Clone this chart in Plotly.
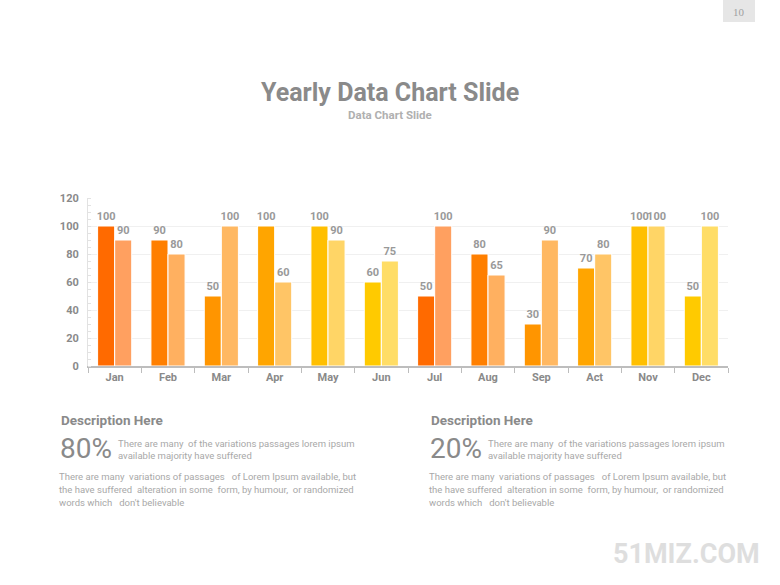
import plotly.graph_objects as go

months = ["Jan", "Feb", "Mar", "Apr", "May", "Jun", "Jul", "Aug", "Sep", "Act", "Nov", "Dec"]
series_a = [100, 90, 50, 100, 100, 60, 50, 80, 30, 70, 100, 50]
series_b = [90, 80, 100, 60, 90, 75, 100, 65, 90, 80, 100, 100]
colors_a = ["#FF6A00", "#FF7F00", "#FF9500", "#FFA500", "#FFBF00", "#FFCA00"] * 2
colors_b = ["#FFA060", "#FFB060", "#FFB862", "#FFC566", "#FFD566", "#FFDD66"] * 2
y_ticks = [0, 20, 40, 60, 80, 100, 120]

W, H = 780, 585
L, R, T, B = 88, 728, 198, 366


def px(x):
    return (x - L) / (R - L)


def py(y):
    return (B - y) / (B - T)


FONT = "Roboto"
label_font = dict(family=FONT, size=11, color="#999999", weight="bold")

fig = go.Figure()
for vals, cols in ((series_a, colors_a), (series_b, colors_b)):
    fig.add_trace(go.Bar(
        x=months, y=vals,
        marker=dict(color=cols, line=dict(color="white", width=1)),
        text=[str(v) for v in vals], textposition="outside",
        textfont=label_font, constraintext="none", cliponaxis=False,
        hoverinfo="x+y", showlegend=False,
    ))

ann = []
ann.append(dict(x=px(390), y=py(92), xref="paper", yref="paper",
                text="Yearly Data Chart Slide",
                showarrow=False, xanchor="center", yanchor="middle",
                font=dict(family=FONT, size=25, color="#8a8a8a", weight="bold")))
ann.append(dict(x=px(390), y=py(115), xref="paper", yref="paper", text="Data Chart Slide",
                showarrow=False, xanchor="center", yanchor="middle",
                font=dict(family=FONT, size=11.5, color="#b0b0b0", weight="bold")))

side_lines = ["There are many  of the variations passages lorem ipsum",
              "available majority have suffered"]
para_lines = ["There are many  variations of passages   of Lorem Ipsum available, but",
              "the have suffered  alteration in some  form, by humour,  or randomized",
              "words which   don't believable"]
for x0, pct in ((59, "80%"), (429, "20%")):
    ann.append(dict(x=px(x0), y=py(420), xref="paper", yref="paper", text="Description Here",
                    showarrow=False, xanchor="left", yanchor="middle",
                    font=dict(family=FONT, size=13.5, color="#8a8a8a", weight="bold")))
    ann.append(dict(x=px(x0 - 1), y=py(448), xref="paper", yref="paper", text=pct,
                    showarrow=False, xanchor="left", yanchor="middle",
                    font=dict(family=FONT, size=28, color="#8a8a8a")))
    for i, line in enumerate(side_lines):
        ann.append(dict(x=px(x0 + 57), y=py(443 + 12 * i), xref="paper", yref="paper", text=line,
                        showarrow=False, xanchor="left", yanchor="middle", align="left",
                        font=dict(family=FONT, size=9.5, color="#a8a8a8")))
    for i, line in enumerate(para_lines):
        ann.append(dict(x=px(x0 - 2), y=py(476 + 13 * i), xref="paper", yref="paper", text=line,
                        showarrow=False, xanchor="left", yanchor="middle", align="left",
                        font=dict(family=FONT, size=9.5, color="#a8a8a8")))

ann.append(dict(x=px(686), y=py(554), xref="paper", yref="paper", text="51MIZ.COM",
                showarrow=False, xanchor="center", yanchor="middle",
                font=dict(family=FONT, size=27, color="#dedede", weight="bold")))
ann.append(dict(x=px(739), y=py(12), xref="paper", yref="paper", text="10",
                showarrow=False, xanchor="center", yanchor="middle",
                font=dict(family="Liberation Serif", size=11, color="#a0a0a0")))

shapes = [dict(type="rect", xref="paper", yref="paper", x0=px(723), x1=px(755),
               y0=py(22), y1=py(-2), fillcolor="#e6e6e6", line=dict(width=0), layer="below")]

fig.update_layout(
    width=W, height=H,
    margin=dict(l=L, r=W - R, t=T, b=H - B, autoexpand=False),
    paper_bgcolor="white", plot_bgcolor="white",
    barmode="group", bargap=0.36, bargroupgap=0.0,
    annotations=ann, shapes=shapes,
    font=dict(family=FONT),
)
fig.update_xaxes(
    showline=True, linecolor="#bdbdbd", linewidth=2,
    ticks="outside", tickson="boundaries", ticklen=5, tickcolor="#bdbdbd", tickwidth=1,
    tickfont=dict(family=FONT, size=11, color="#8a8a8a", weight="bold"),
    showgrid=False, fixedrange=True,
)
fig.update_yaxes(
    range=[0, 120], tickvals=y_ticks, ticktext=[str(v) for v in y_ticks],
    showline=True, linecolor="#e2e2e2", linewidth=1,
    showgrid=True, gridcolor="#f0f0f0", gridwidth=1, zeroline=False,
    ticks="", ticklabelstandoff=6,
    minor=dict(dtick=5, ticks="inside", ticklen=3, tickcolor="#e2e2e2", showgrid=False),
    tickfont=dict(family=FONT, size=11, color="#8a8a8a", weight="bold"),
    fixedrange=True,
)

fig.write_html("out.html", config={"displayModeBar": False},
               post_script="document.body.style.margin='0px';")
